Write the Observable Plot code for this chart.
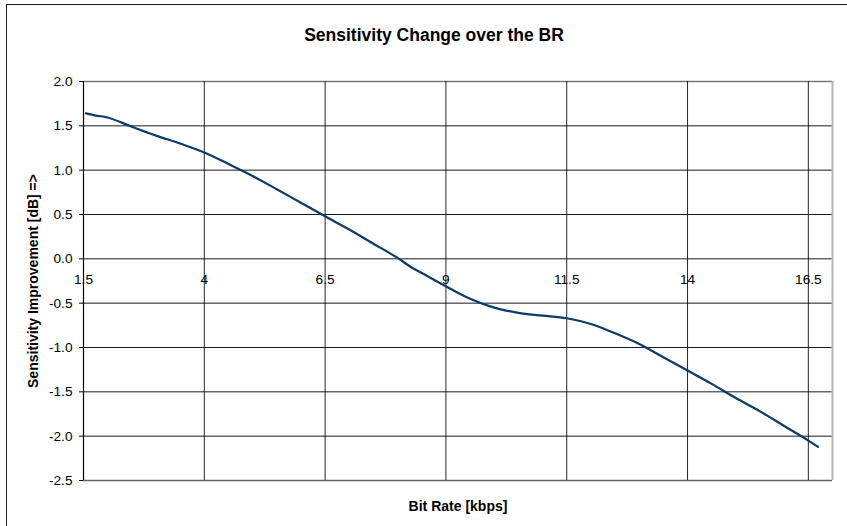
<!DOCTYPE html>
<html>
<head>
<meta charset="utf-8">
<script src="https://cdn.jsdelivr.net/npm/d3@7"></script>
<script src="https://cdn.jsdelivr.net/npm/@observablehq/plot@0.6"></script>
<style>
  html, body { margin: 0; padding: 0; background: #fff; }
  #wrap { position: relative; width: 847px; height: 526px; overflow: hidden; }
  #frame { position: absolute; left: 6px; top: 4px; width: 900px; height: 600px;
           border: 1.5px solid #222; pointer-events: none; }
</style>
</head>
<body>
<div id="wrap"><div id="chart"></div><div id="frame"></div></div>
<script>
const title = "Sensitivity Change over the BR";
const xTitle = "Bit Rate [kbps]";
const yTitle = "Sensitivity Improvement [dB] =>";

const bitRate = [1.55, 1.75, 1.95, 2.5, 3.0, 3.5, 4.0, 4.5, 5.0, 5.5, 6.0, 6.5, 7.0, 7.5, 8.0, 8.3, 8.5, 9.0, 9.5, 10.0, 10.5, 11.0, 11.5, 12.0, 12.5, 13.0, 13.5, 14.0, 14.5, 15.0, 15.5, 16.0, 16.5, 16.7];
const improvement = [1.64, 1.615, 1.60, 1.49, 1.39, 1.30, 1.20, 1.07, 0.935, 0.785, 0.632, 0.48, 0.33, 0.17, 0.01, -0.10, -0.16, -0.31, -0.45, -0.55, -0.61, -0.64, -0.67, -0.735, -0.84, -0.96, -1.11, -1.26, -1.41, -1.57, -1.72, -1.885, -2.05, -2.12];

const xTicks = [1.5, 4, 6.5, 9, 11.5, 14, 16.5];
const yTicks = [-2.5, -2.0, -1.5, -1.0, -0.5, 0.0, 0.5, 1.0, 1.5, 2.0];
const xDomain = [1.5, 17];
const yDomain = [-2.5, 2];

const data = bitRate.map((x, i) => ({x, y: improvement[i]}));
const font = "Arial, 'Liberation Sans', sans-serif";

const chart = Plot.plot({
  width: 847,
  height: 526,
  marginLeft: 83,
  marginTop: 81,
  marginRight: 15,
  marginBottom: 46,
  style: {background: "transparent", fontFamily: font, fontSize: "13.7px", color: "#000"},
  x: {domain: xDomain, axis: null},
  y: {domain: yDomain, ticks: yTicks, tickFormat: d => d.toFixed(1), tickSize: 4, tickPadding: 7, label: null},
  marks: [
    Plot.ruleY(yTicks.filter(d => d > -2.5 && d < 2), {stroke: "#000", strokeWidth: 1, strokeOpacity: 0.9}),
    Plot.ruleY([2], {stroke: "#777", strokeWidth: 1.3}),
    Plot.ruleY([-2.5], {stroke: "#666", strokeWidth: 1.3}),
    Plot.ruleX(xTicks.filter(d => d > 1.5), {stroke: "#000", strokeWidth: 1, strokeOpacity: 0.85}),
    Plot.ruleX([1.5], {stroke: "#000", strokeWidth: 1.2}),
    Plot.ruleX([17], {stroke: "#b4b4b4", strokeWidth: 2}),
    Plot.text(xTicks, {x: d => d, y: 0, text: d => String(d), dy: 21, fill: "#000", fontSize: 13.7, lineAnchor: "middle"}),
    Plot.line(data, {x: "x", y: "y", stroke: "#0b3a6b", strokeWidth: 2.2, curve: "monotone-x"}),
    Plot.text([title], {frameAnchor: "top", text: d => d, dx: -24, dy: -41, lineAnchor: "bottom", textAnchor: "middle", fontWeight: "bold", fontSize: 17.5, fill: "#000"}),
    Plot.text([xTitle], {frameAnchor: "bottom", text: d => d, dy: 30, lineAnchor: "bottom", textAnchor: "middle", fontWeight: "bold", fontSize: 14, fill: "#000"}),
    Plot.text([yTitle], {frameAnchor: "left", text: d => d, dx: -50, rotate: -90, lineAnchor: "middle", textAnchor: "middle", fontWeight: "bold", fontSize: 14, fill: "#000"})
  ]
});
document.getElementById("chart").appendChild(chart);
</script>
</body>
</html>
